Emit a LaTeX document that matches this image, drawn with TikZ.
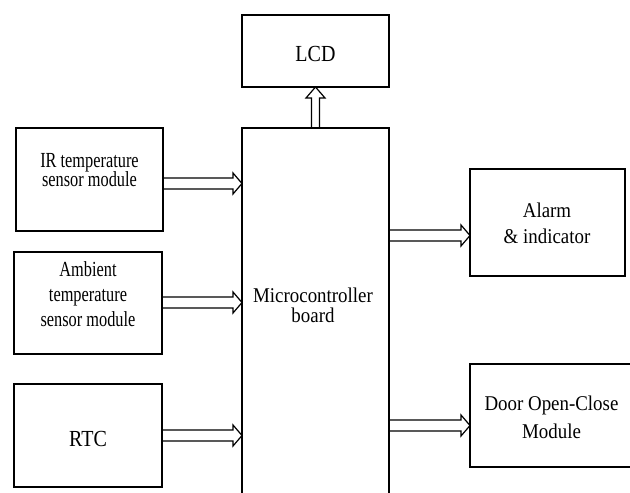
\documentclass[tikz,border=0pt]{standalone}
\usepackage{fontspec}
\setmainfont{Liberation Serif}
\newfontfamily\fsmall[FakeStretch=0.76]{Liberation Serif}
\newfontfamily\fmid[FakeStretch=0.9]{Liberation Serif}
\newfontfamily\fbig[FakeStretch=0.87]{Liberation Serif}
\usetikzlibrary{calc}
\tikzset{
  box/.style={draw, rectangle, line width=1.6pt, inner sep=0pt, outer sep=0pt},
  blockline/.style={line width=1.2pt, line join=miter},
  txt/.style={align=center, inner sep=0pt, outer sep=0pt, text=black},
}
\newcommand\harrow[2]{%
  \draw[blockline] let \p1=#1, \p2=#2 in
    (\x1,\y1+5.5pt) -- (\x2-9pt,\y1+5.5pt) -- (\x2-9pt,\y1+10.5pt) -- (\x2,\y1)
    -- (\x2-9pt,\y1-10.5pt) -- (\x2-9pt,\y1-5.5pt) -- (\x1,\y1-5.5pt);}
\newcommand\varrow[2]{%
  \draw[blockline] let \p1=#1, \p2=#2 in
    (\x1-4pt,\y1) -- (\x1-4pt,\y2-11pt) -- (\x1-9.5pt,\y2-11pt) -- (\x1,\y2)
    -- (\x1+9.5pt,\y2-11pt) -- (\x1+4pt,\y2-11pt) -- (\x1+4pt,\y1);}
\begin{document}
\begin{tikzpicture}[x=1pt,y=-1pt]
  \useasboundingbox (0,0) rectangle (630,493);
  \fill[white] (0,0) rectangle (630,493);
  \clip (0,0) rectangle (630,493);

  % boxes
  \node[box, minimum width=147pt, minimum height=72pt]  (lcd)   at (315.5,51)    {};
  \node[box, minimum width=147pt, minimum height=103pt] (ir)    at (89.5,179.5)  {};
  \node[box, minimum width=148pt, minimum height=102pt] (amb)   at (88,303)      {};
  \node[box, minimum width=148pt, minimum height=103pt] (rtc)   at (88,435.5)    {};
  \node[box, line width=1.3pt, minimum width=147pt, minimum height=380pt] (mc) at (315.5,318) {};
  \node[box, minimum width=155pt, minimum height=107pt] (alarm) at (547.5,222.5) {};
  \node[box, minimum width=170pt, minimum height=103pt] (door)  at (555,415.5)   {};

  % texts
  \node[txt, font=\fbig\fontsize{23}{24}\selectfont] (lcdt) at (315.5,54.2) {LCD};
  \node[txt, font=\fbig\fontsize{23}{24}\selectfont] (rtct) at (88,439) {RTC};
  \node[txt, font=\fsmall\fontsize{21.5}{19.5}\selectfont] (irt) at (89.5,169.9)
       {IR temperature\\sensor module};
  \node[txt, font=\fsmall\fontsize{21.5}{25}\selectfont] (ambt) at (88,294.6)
       {Ambient\\temperature\\sensor module};
  \node[txt, font=\fmid\fontsize{21}{20}\selectfont] (mct) at (313,304.9)
       {Microcontroller\\board};
  \node[txt, font=\fmid\fontsize{21}{26}\selectfont] (alt) at (547,223.2)
       {Alarm\\\& indicator};
  \node[txt, font=\fmid\fontsize{21}{28}\selectfont] (drt) at (551.5,416.9)
       {Door Open-Close\\Module};

  % connectors
  \varrow{(mc.north)}{(lcd.south)}
  \harrow{($(ir.east)+(0,4)$)}{(mc.west)}
  \harrow{($(amb.east)+(0,-0.5)$)}{(mc.west)}
  \harrow{(rtc.east)}{(mc.west)}
  \harrow{($(mc.east |- alarm.west)+(0,13)$)}{(alarm.west)}
  \harrow{($(mc.east |- door.west)+(0,10)$)}{(door.west)}
\end{tikzpicture}
\end{document}
